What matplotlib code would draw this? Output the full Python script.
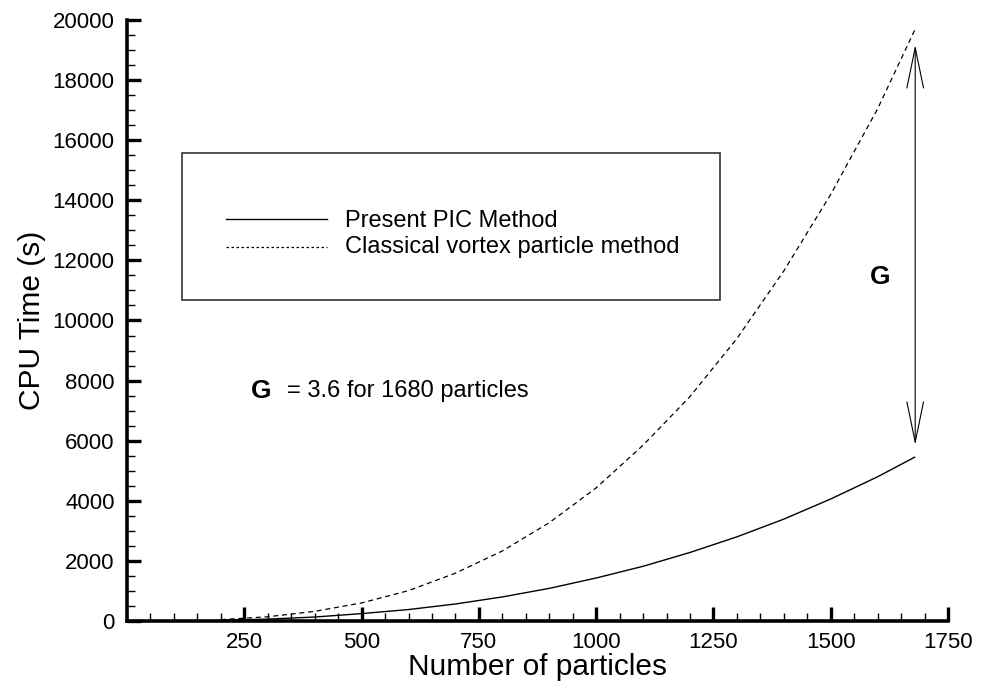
import matplotlib.pyplot as plt
from matplotlib.patches import Rectangle
from matplotlib.lines import Line2D
from matplotlib.ticker import MultipleLocator

plt.rcParams['font.family'] = ['Liberation Sans', 'DejaVu Sans']

# --- data ---
n_particles = [200, 300, 400, 500, 600, 700, 800, 900, 1000, 1100,
               1200, 1300, 1400, 1500, 1600, 1680]
pic_time = [22, 62, 131, 245, 380, 565, 800, 1085, 1430, 1820,
            2280, 2800, 3390, 4060, 4800, 5460]
classical_time = [45, 140, 320, 600, 1010, 1590, 2330, 3270, 4430, 5850,
                  7470, 9400, 11650, 14200, 17050, 19700]
labels = ["Present PIC Method", "Classical vortex particle method"]
x_ticks = [250, 500, 750, 1000, 1250, 1500, 1750]
y_ticks = [0, 2000, 4000, 6000, 8000, 10000, 12000, 14000, 16000, 18000, 20000]
gain_at = 1680
gain_text = "= 3.6 for 1680 particles"

fig = plt.figure(figsize=(9.81, 6.86), dpi=100)
ax = fig.add_axes([0.1295, 0.0948, 0.8369, 0.876])

ax.plot(n_particles, pic_time, color='black', lw=1.0, solid_capstyle='butt')
ax.plot(n_particles, classical_time, color='black', lw=0.9,
        linestyle=(0, (4, 3)))

# double arrow marking the gain G
ax.annotate('', xy=(gain_at, 19170), xytext=(gain_at, 5860),
            arrowprops=dict(arrowstyle='<->,head_length=2.9,head_width=0.6',
                            color='black', lw=0.8, shrinkA=0, shrinkB=0))
ax.text(1605, 11450, 'G', fontsize=19, fontweight='bold',
        ha='center', va='center')
ax.text(285, 7650, 'G', fontsize=19, fontweight='bold',
        ha='center', va='center')
ax.text(341, 7650, gain_text, fontsize=17, ha='left', va='center')

# --- legend box drawn by hand (large frame, entries in the middle) ---
ax.add_patch(Rectangle((0.067, 0.534), 0.655, 0.245, transform=ax.transAxes,
                       fill=False, edgecolor='#333333', lw=1.2, zorder=3))
ax.add_line(Line2D([0.1206, 0.2436], [0.669, 0.669], transform=ax.transAxes,
                   color='black', lw=1.0))
ax.add_line(Line2D([0.1206, 0.2436], [0.622, 0.622], transform=ax.transAxes,
                   color='black', lw=0.9, linestyle=(0, (2, 2))))
ax.text(0.2655, 0.666, labels[0], transform=ax.transAxes, fontsize=17,
        ha='left', va='center')
ax.text(0.2655, 0.623, labels[1], transform=ax.transAxes, fontsize=17,
        ha='left', va='center')

# --- axes styling ---
ax.set_xlim(0, 1750)
ax.set_ylim(0, 20000)
ax.set_xticks(x_ticks)
ax.set_yticks(y_ticks)
ax.xaxis.set_minor_locator(MultipleLocator(50))
ax.yaxis.set_minor_locator(MultipleLocator(500))
ax.spines['top'].set_visible(False)
ax.spines['right'].set_visible(False)
ax.spines['left'].set_linewidth(2.6)
ax.spines['bottom'].set_linewidth(2.6)
ax.tick_params(which='major', direction='in', length=10, width=2.4,
               labelsize=16)
ax.tick_params(axis='y', which='major', pad=9)
ax.tick_params(axis='x', which='major', pad=8)
ax.tick_params(which='minor', direction='in', length=6, width=1.0)
ax.set_xlabel('Number of particles', fontsize=21.5, labelpad=0)
ax.set_ylabel('CPU Time (s)', fontsize=21.5, labelpad=5)

fig.savefig('out.png', dpi=100)
